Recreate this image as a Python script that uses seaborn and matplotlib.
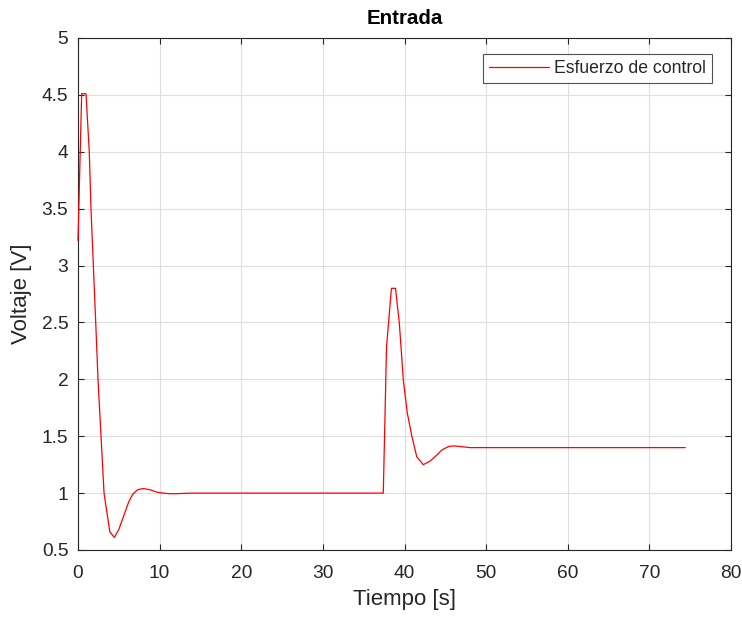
import matplotlib
matplotlib.use("Agg")
import matplotlib.pyplot as plt
import seaborn as sns
import pandas as pd

t = [0, 0.45, 0.98, 1.38, 1.59, 1.88, 2.17, 2.45, 2.82, 3.19, 3.5, 3.9, 4.45,
     5.0, 5.6, 6.2, 6.7, 7.3, 8.0, 8.8, 9.6, 10.4, 11.2, 12, 14, 37.4,
     37.8, 38.4, 38.9, 39.37, 39.86, 40.35, 40.9, 41.5, 42.3, 43.1, 43.9,
     44.6, 45.4, 46.0, 46.8, 48, 49.2, 74.4]
u = [3.22, 4.51, 4.51, 4.0, 3.5, 3.0, 2.5, 2.0, 1.5, 1.0, 0.85, 0.66, 0.61,
     0.68, 0.80, 0.92, 0.99, 1.03, 1.04, 1.03, 1.01, 1.0, 0.995, 0.995, 1.0, 1.0,
     2.29, 2.80, 2.80, 2.49, 1.99, 1.70, 1.50, 1.32, 1.25, 1.28, 1.33,
     1.38, 1.41, 1.415, 1.41, 1.40, 1.40, 1.40]
series_name = "Esfuerzo de control"
title = "Entrada"
xlabel = "Tiempo [s]"
ylabel = "Voltaje [V]"
xticks = [0, 10, 20, 30, 40, 50, 60, 70, 80]
yticks = [0.5, 1, 1.5, 2, 2.5, 3, 3.5, 4, 4.5, 5]

sns.set_theme(style="whitegrid")
plt.rcParams["font.family"] = ["Liberation Sans", "DejaVu Sans"]

df = pd.DataFrame({"t": t, "u": u, "s": series_name})

fig = plt.figure(figsize=(7.42, 6.18), dpi=100)
ax = fig.add_axes([78/742, 1-550/618, (731-78)/742, (550-38)/618])
sns.lineplot(data=df, x="t", y="u", hue="s", palette=["#ff0000"], ax=ax,
             estimator=None, sort=False, linewidth=0.9, zorder=3)
for ln in ax.lines:
    ln.set_clip_on(False)

ax.set_xlim(0, 80)
ax.set_ylim(0.5, 5)
ax.set_xticks(xticks)
ax.set_yticks(yticks)
ax.set_yticklabels([f"{v:g}" for v in yticks])
ax.set_xlabel(xlabel, fontsize=16, color="#262626", labelpad=5)
ax.set_ylabel(ylabel, fontsize=16, color="#262626", labelpad=7)
ax.set_title(title, fontsize=14.8, fontweight="bold", color="black", pad=10)
ax.grid(True, color="#dedede", linewidth=0.8)
for sp in ax.spines.values():
    sp.set_color("#262626")
    sp.set_linewidth(0.8)
    sp.set_zorder(2.5)
ax.tick_params(direction="in", length=4, width=0.8, colors="#262626",
               labelsize=13.8, top=True, right=True, bottom=True, left=True,
               labelcolor="#262626")
ax.tick_params(axis="x", pad=11)
ax.tick_params(axis="y", pad=7)
leg = ax.legend(loc="upper right", bbox_to_anchor=((712-78)/653, (550-54)/512),
                borderaxespad=0, fontsize=12.7, frameon=True, fancybox=False,
                edgecolor="#262626", handlelength=3.4, handletextpad=0.3,
                borderpad=0.35)
leg.get_frame().set_linewidth(0.8)
leg.set_zorder(5)
fig.savefig("out.png", dpi=100, facecolor="white")
